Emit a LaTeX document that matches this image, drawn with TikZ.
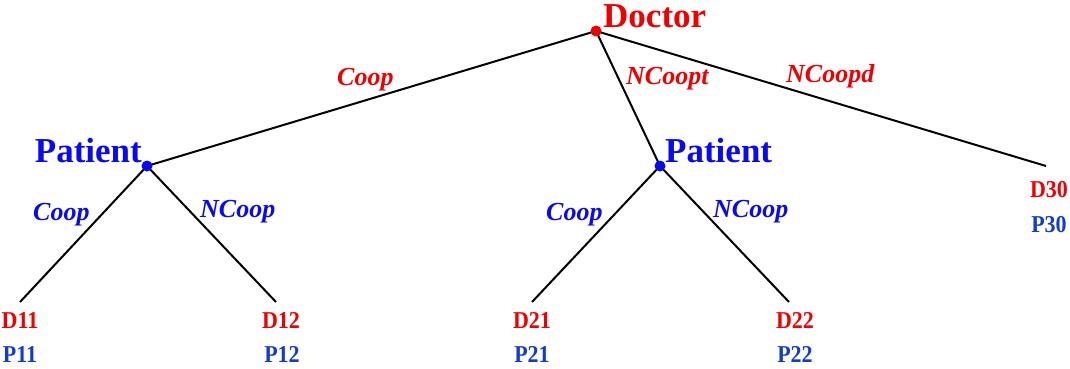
\documentclass[tikz,border=0pt]{standalone}
\usepackage{fontspec}
\setmainfont{Liberation Serif}
\definecolor{dred}{RGB}{240,0,0}
\definecolor{pblue}{RGB}{10,10,240}
\definecolor{qblue}{RGB}{20,60,200}
\begin{document}
\begin{tikzpicture}[x=1pt,y=-1pt,
  dot/.style={circle,inner sep=0pt,minimum size=11pt},
  branch/.style={line width=2pt,black},
  big/.style={font=\fontsize{35}{36}\selectfont\bfseries,inner sep=0pt},
  elab/.style={font=\fontsize{26}{28}\selectfont\bfseries\itshape,inner sep=0pt,anchor=base west},
  pay/.style={font=\fontsize{22}{24}\selectfont\bfseries,inner sep=0pt,anchor=base,yscale=1.1},
]
\useasboundingbox (0,0) rectangle (1070,368);
% leaf ends
\coordinate (l11) at (20,302);
\coordinate (l12) at (276,302);
\coordinate (l21) at (532,302);
\coordinate (l22) at (789,302);
\coordinate (l30) at (1046,166);
% decision nodes
\coordinate (doc) at (596,31);
\coordinate (pa) at (147,166);
\coordinate (pb) at (660,166);
% branches
\draw[branch] (doc) -- (pa);
\draw[branch] (doc) -- (pb);
\draw[branch] (doc) -- (l30);
\draw[branch] (pa) -- (l11);
\draw[branch] (pa) -- (l12);
\draw[branch] (pb) -- (l21);
\draw[branch] (pb) -- (l22);
\node[dot,fill=dred] (docdot) at (doc) {};
\node[dot,fill=pblue] (padot) at (pa) {};
\node[dot,fill=pblue] (pbdot) at (pb) {};
\node[big,text=dred,anchor=base west] (doctxt) at (603,27) {Doctor};
\node[big,text=pblue,anchor=base east] (patxt) at (142,162) {Patient};
\node[big,text=pblue,anchor=base west] (pbtxt) at (665,162) {Patient};
% edge labels
\node[elab,text=dred] (e1) at (337,85) {Coop};
\node[elab,text=dred] (e2) at (626,84) {NCoopt};
\node[elab,text=dred] (e3) at (786,82) {NCoopd};
\node[elab,text=pblue] (e4) at (33,220) {Coop};
\node[elab,text=pblue] (e5) at (200,217) {NCoop};
\node[elab,text=pblue] (e6) at (546,220) {Coop};
\node[elab,text=pblue] (e7) at (713,217) {NCoop};
% payoffs
\node[pay,text=dred] (d11) at (20,328) {D11};
\node[pay,text=qblue] (p11) at (20,362) {P11};
\node[pay,text=dred] (d12) at (281,328) {D12};
\node[pay,text=qblue] (p12) at (282,362) {P12};
\node[pay,text=dred] (d21) at (532,328) {D21};
\node[pay,text=qblue] (p21) at (532,362) {P21};
\node[pay,text=dred] (d22) at (795,328) {D22};
\node[pay,text=qblue] (p22) at (795,362) {P22};
\node[pay,text=dred] (d30) at (1049,197) {D30};
\node[pay,text=qblue] (p30) at (1049,232) {P30};
\end{tikzpicture}
\end{document}
